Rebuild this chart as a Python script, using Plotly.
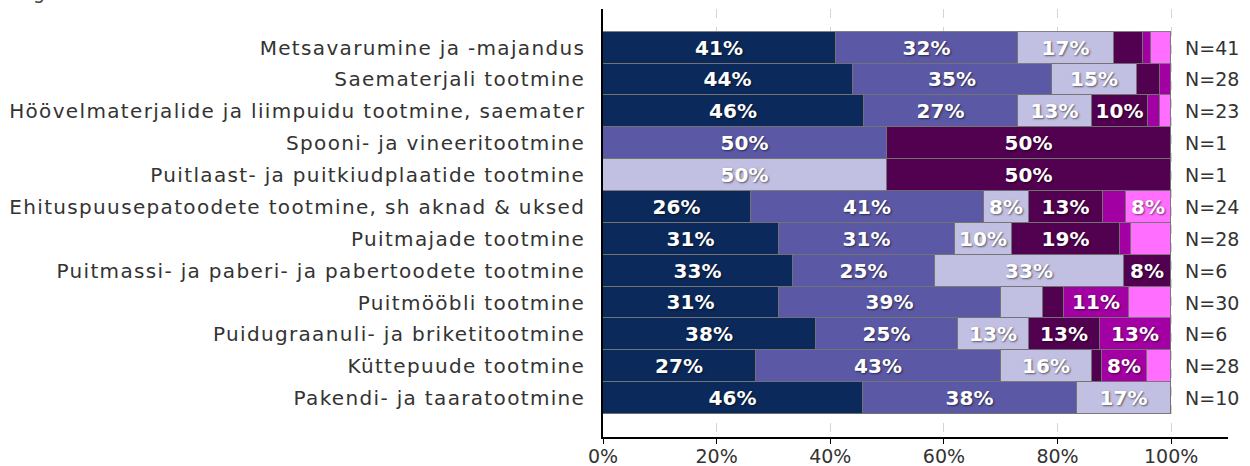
import math
import plotly.graph_objects as go

# Industry categories (top to bottom) and respondent counts
categories = [
    "Metsavarumine ja -majandus",
    "Saematerjali tootmine",
    "Höövelmaterjalide ja liimpuidu tootmine, saemater",
    "Spooni- ja vineeritootmine",
    "Puitlaast- ja puitkiudplaatide tootmine",
    "Ehituspuusepatoodete tootmine, sh aknad & uksed",
    "Puitmajade tootmine",
    "Puitmassi- ja paberi- ja pabertoodete tootmine",
    "Puitmööbli tootmine",
    "Puidugraanuli- ja briketitootmine",
    "Küttepuude tootmine",
    "Pakendi- ja taaratootmine",
]
n_labels = ["N=41", "N=28", "N=23", "N=1", "N=1", "N=24",
            "N=28", "N=6", "N=30", "N=6", "N=28", "N=10"]

# Answer shares (%) per category, one list per answer group
share_1 = [41, 44, 46, 0, 0, 26, 31, 33.4, 31, 37.5, 27, 45.8]
share_2 = [32, 35, 27, 50, 0, 41, 31, 25, 39, 25, 43, 37.6]
share_3 = [17, 15, 13, 0, 50, 8, 10, 33.3, 7.4, 12.5, 16, 16.6]
share_4 = [5, 4, 10, 50, 50, 13, 19, 8.3, 3.8, 12.5, 1.8, 0]
share_5 = [1.5, 2, 2, 0, 0, 4, 2, 0, 11.4, 12.5, 8, 0]
share_6 = [3.5, 0, 2, 0, 0, 8, 7, 0, 7.4, 0, 4.2, 0]

x_tick_vals = [0, 20, 40, 60, 80, 100]
x_tick_text = ["0%", "20%", "40%", "60%", "80%", "100%"]

series = [share_1, share_2, share_3, share_4, share_5, share_6]
colors = ["#0b2a5b", "#5b58a6", "#c2c0e2", "#520050", "#a300a3", "#ff6eff"]

FONT = "DejaVu Sans"


def pct_label(v):
    # whole-percent label, shown only where the segment is wide enough
    return f"{math.floor(v + 0.5)}%" if v >= 7.5 else ""


fig = go.Figure()
for vals, col in zip(series, colors):
    fig.add_trace(go.Bar(
        x=vals,
        y=categories,
        orientation="h",
        marker=dict(color=col, line=dict(color="rgba(115,115,115,0.9)", width=1)),
        text=[pct_label(v) for v in vals],
        textposition="inside",
        insidetextanchor="middle",
        textangle=0,
        constraintext="none",
        textfont=dict(family=FONT, size=20, color="white", weight="bold",
                      shadow="1px 1px 2px rgba(0,0,0,0.55)"),
        hoverinfo="skip",
        showlegend=False,
    ))

# respondent counts to the right of each bar
for cat, nl in zip(categories, n_labels):
    fig.add_annotation(
        x=102, y=cat, xref="x", yref="y", text=nl, showarrow=False,
        xanchor="left", yanchor="middle",
        font=dict(family=FONT, size=19, color="#333333"),
    )

# section heading at the very top edge
fig.add_annotation(
    x=-0.9488, y=1.0093, xref="paper", yref="paper", text="Tegevusvaldkond",
    showarrow=False, xanchor="left", yanchor="bottom",
    font=dict(family=FONT, size=19, color="#404040"),
)

fig.update_layout(
    width=1250,
    height=466,
    margin=dict(l=603, r=22, t=9, b=29),
    barmode="stack",
    bargap=0,
    plot_bgcolor="white",
    paper_bgcolor="white",
    font=dict(family=FONT, size=19, color="#333333"),
    xaxis=dict(
        range=[0, 110],
        tickvals=x_tick_vals,
        ticktext=x_tick_text,
        automargin=False,
        showgrid=True,
        gridcolor="#d4d4d4",
        griddash="dash",
        gridwidth=1,
        showline=True,
        linecolor="black",
        linewidth=1.5,
        ticks="outside",
        ticklen=5,
        tickcolor="black",
        ticklabelstandoff=-4,
        zeroline=False,
        tickfont=dict(family=FONT, size=19, color="#333333"),
    ),
    yaxis=dict(
        type="category",
        categoryorder="array",
        categoryarray=categories,
        range=[12.22, -1.21],
        automargin=False,
        showline=True,
        linecolor="black",
        linewidth=1.5,
        showgrid=False,
        ticks="",
        ticklabelstandoff=12,
        tickfont=dict(family=FONT, size=20, color="#333333"),
    ),
)

# widen the category labels with letter spacing so the longest one spans the left column
label_spacing_js = """
var gd = document.getElementById('{plot_id}');
var texts = gd.querySelectorAll('.ytick text');
var maxw = 0, nchar = 1;
texts.forEach(function (t) {
    var w = t.getComputedTextLength();
    if (w > maxw) { maxw = w; nchar = t.textContent.length; }
});
var s = Math.max(0, (576 - maxw) / nchar);
texts.forEach(function (t) { t.style.letterSpacing = s + 'px'; });
"""

fig.write_html("out.html", post_script=label_spacing_js)
